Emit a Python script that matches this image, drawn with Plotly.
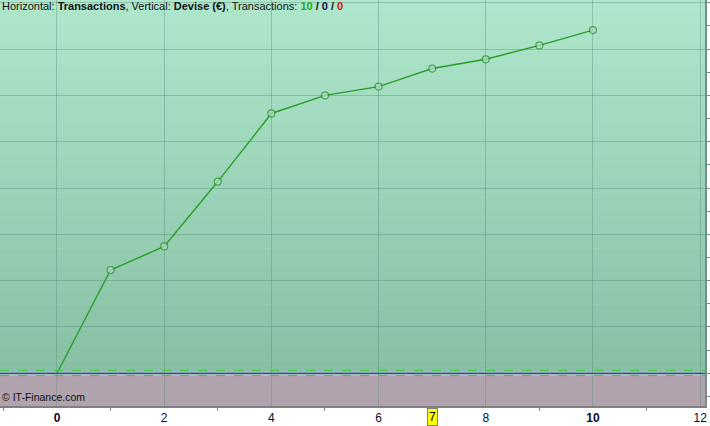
import plotly.graph_objects as go

# ---- data ----
transactions = [0, 1, 2, 3, 4, 5, 6, 7, 8, 9, 10]
devise = [0, 223, 274, 414, 561, 600, 619, 658, 678, 708, 741]
x_tick_vals = [0, 2, 4, 6, 8, 10, 12]
x_tick_text = ["<b>0</b>", "2", "4", "6", "8", "<b>10</b>", "12"]
highlight_x = 7
header_parts = {"count_green": "10", "count_mid": "0", "count_red": "0"}
band_upper = 6
band_lower = -5

x_range = [-1.063, 12.09]
y_range = [-70.6, 806]

fig = go.Figure()

# gradient background above zero
def mix(c1, c2, t):
    return "rgb(%d,%d,%d)" % tuple(round(a + (b - a) * t) for a, b in zip(c1, c2))

bottom_c = (0x86, 0xbf, 0xa3)
top_c = (0xae, 0xe7, 0xcc)
n = 60
shapes = []
for i in range(n):
    y0 = y_range[1] * i / n
    y1 = y_range[1] * (i + 1) / n
    shapes.append(dict(type="rect", xref="paper", yref="y", x0=0, x1=1, y0=y0, y1=y1 + 1,
                       fillcolor=mix(bottom_c, top_c, (i + 0.5) / n), line=dict(width=0), layer="below"))
# below zero mauve region
shapes.append(dict(type="rect", xref="paper", yref="y", x0=0, x1=1, y0=y_range[0], y1=band_lower,
                   fillcolor="#b0a3ad", line=dict(width=0), layer="below"))
shapes.append(dict(type="rect", xref="paper", yref="y", x0=0, x1=1, y0=band_lower, y1=band_upper,
                   fillcolor="#9fb7c0", line=dict(width=0), layer="below"))
# reference lines
shapes.append(dict(type="line", xref="paper", yref="y", x0=0, x1=1, y0=band_upper, y1=band_upper,
                   line=dict(color="#3fcc3f", width=1, dash="dash"), layer="above"))
shapes.append(dict(type="line", xref="paper", yref="y", x0=0, x1=1, y0=band_lower, y1=band_lower,
                   line=dict(color="#dd6a6a", width=1, dash="dash"), layer="above"))
shapes.append(dict(type="line", xref="paper", yref="y", x0=0, x1=1, y0=0, y1=0,
                   line=dict(color="#3848a8", width=1.2), layer="above"))

fig.add_trace(go.Scatter(
    x=transactions, y=devise, mode="lines+markers",
    line=dict(color="#28a028", width=1.4),
    marker=dict(size=[0] + [7] * (len(transactions) - 1), color="#bcd8d0",
                line=dict(color="#1f8f1f", width=1.2)),
    hoverinfo="skip", showlegend=False,
))

annotations = [
    dict(xref="paper", yref="paper", x=0, y=1, xanchor="left", yanchor="top", yshift=2,
         showarrow=False, align="left",
         text=("Horizontal: <b>Transactions</b>, Vertical: <b>Devise (€)</b>, Transactions: "
               "<b><span style='color:#22aa22'>%s</span> / <span style='color:#101060'>%s</span> / "
               "<span style='color:#cc1010'>%s</span></b>") % (header_parts["count_green"],
                                                                header_parts["count_mid"],
                                                                header_parts["count_red"]),
         font=dict(family="Liberation Sans", size=11, color="#111111")),
    dict(xref="paper", yref="paper", x=0, y=0, xanchor="left", yanchor="bottom", yshift=1,
         showarrow=False, text="© IT-Finance.com",
         font=dict(family="Liberation Sans", size=10.5, color="#111111")),
    dict(xref="x", yref="paper", x=highlight_x, y=0, yanchor="top", yshift=-2,
         showarrow=False, text=str(highlight_x), bgcolor="#ffff00", bordercolor="#808080",
         borderwidth=1, borderpad=1,
         font=dict(family="Liberation Sans", size=12, color="#000000")),
]

fig.update_layout(
    width=710, height=426,
    margin=dict(l=0, r=5, t=0, b=20),
    paper_bgcolor="#ffffff",
    plot_bgcolor="#ade6cb",
    shapes=shapes,
    annotations=annotations,
    xaxis=dict(range=x_range, tickvals=x_tick_vals, ticktext=x_tick_text,
               showgrid=True, gridcolor="rgba(90,140,120,0.4)", gridwidth=1,
               zeroline=False, showline=True, linecolor="#808080", linewidth=1.5,
               ticks="", ticklen=0,
               minor=dict(tickvals=[-1, 1, 3, 5, 7, 9, 11], ticks="outside", ticklen=3,
                          tickcolor="#808080", showgrid=False),
               tickfont=dict(family="Liberation Sans", size=12, color="#0a0a30"),
               fixedrange=True),
    yaxis=dict(range=y_range, side="right", dtick=100, tick0=0,
               showticklabels=False, showgrid=True, gridcolor="rgba(90,140,120,0.4)",
               zeroline=False, showline=True, linecolor="#6f8f88", linewidth=1.5,
               ticks="outside", ticklen=5, tickcolor="#6f8f88",
               minor=dict(dtick=50, tick0=0, ticks="outside", ticklen=3, tickcolor="#6f8f88",
                          showgrid=False),
               fixedrange=True),
)

fig.write_html("out.html", config={"displayModeBar": False},
               post_script="document.body.style.margin='0';document.body.style.overflow='hidden';")
